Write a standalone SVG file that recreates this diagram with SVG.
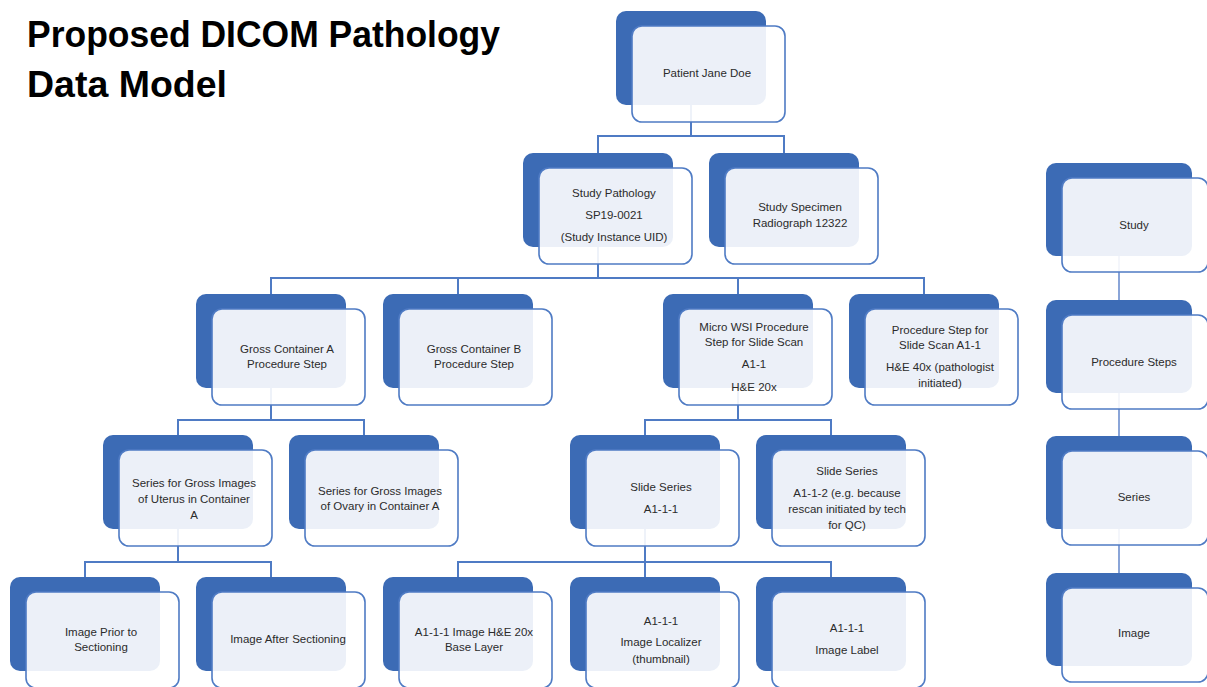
<svg xmlns="http://www.w3.org/2000/svg" width="1207" height="687" viewBox="0 0 1207 687">
<style>
.bk{fill:#3c6bb5}
.fr{fill:#ffffff;fill-opacity:0.9;stroke:#4f7bc4;stroke-width:1.6}
.t{font-family:"Liberation Sans",Arial,sans-serif;font-size:11.5px;fill:#2b2b2b;text-anchor:middle}
.ttl{font-family:"Liberation Sans",Arial,sans-serif;font-size:36px;font-weight:bold;fill:#000}
.c{fill:none;stroke:#4f7bc4;stroke-width:2}
.c2{fill:none;stroke:#8aa5d8;stroke-width:2}
</style>
<defs>
<g id="nd">
<rect class="bk" x="0" y="0" width="150" height="94" rx="10"/>
<rect class="fr" x="16" y="15" width="153" height="96" rx="10"/>
</g>
<g id="nr">
<rect class="bk" x="0" y="0" width="146" height="93" rx="10"/>
<rect class="fr" x="16" y="15" width="146" height="94" rx="10"/>
</g>
</defs>
<rect width="1207" height="687" fill="#ffffff"/>
<g id="title">
<text class="ttl" x="27" y="47" textLength="473" lengthAdjust="spacingAndGlyphs">Proposed DICOM Pathology</text>
<text class="ttl" x="27" y="97" textLength="200" lengthAdjust="spacingAndGlyphs">Data Model</text>
</g>
<g id="connectors">
<path class="c" d="M691 105V136M598 153V136H784V153"/>
<path class="c" d="M598 246V278M271 294V278H924V294M458 278V294M738 278V294"/>
<path class="c" d="M271 387V420M178 435V420H364V435"/>
<path class="c" d="M738 387V420M645 435V420H831V435"/>
<path class="c" d="M178 528V562M85 577V562H271V577"/>
<path class="c" d="M645 528V577M458 577V562H831V577"/>
<path class="c2" d="M1119 255V300M1119 392V436M1119 528V573"/>
</g>
<g id="patient"><use href="#nd" x="616" y="11"/><text class="t" x="707" y="77">Patient Jane Doe</text></g>
<g id="study-pathology"><use href="#nd" x="523" y="153"/><text class="t" x="614" y="197">Study Pathology</text><text class="t" x="614" y="219">SP19-0021</text><text class="t" x="614" y="241">(Study Instance UID)</text></g>
<g id="study-specimen"><use href="#nd" x="709" y="153"/><text class="t" x="800" y="211">Study Specimen</text><text class="t" x="800" y="227">Radiograph 12322</text></g>
<g id="gross-a"><use href="#nd" x="196" y="294"/><text class="t" x="287" y="353">Gross Container A</text><text class="t" x="287" y="368">Procedure Step</text></g>
<g id="gross-b"><use href="#nd" x="383" y="294"/><text class="t" x="474" y="353">Gross Container B</text><text class="t" x="474" y="368">Procedure Step</text></g>
<g id="micro-wsi"><use href="#nd" x="663" y="294"/><text class="t" x="754" y="331">Micro WSI Procedure</text><text class="t" x="754" y="346">Step for Slide Scan</text><text class="t" x="754" y="368">A1-1</text><text class="t" x="754" y="391">H&amp;E 20x</text></g>
<g id="proc-step-40x"><use href="#nd" x="849" y="294"/><text class="t" x="940" y="334">Procedure Step for</text><text class="t" x="940" y="349">Slide Scan A1-1</text><text class="t" x="940" y="371">H&amp;E 40x (pathologist</text><text class="t" x="940" y="387">initiated)</text></g>
<g id="series-uterus"><use href="#nd" x="103" y="435"/><text class="t" x="194" y="487">Series for Gross Images</text><text class="t" x="194" y="503">of Uterus in Container</text><text class="t" x="194" y="519">A</text></g>
<g id="series-ovary"><use href="#nd" x="289" y="435"/><text class="t" x="380" y="495">Series for Gross Images</text><text class="t" x="380" y="510">of Ovary in Container A</text></g>
<g id="slide-series-1"><use href="#nd" x="570" y="435"/><text class="t" x="661" y="491">Slide Series</text><text class="t" x="661" y="513">A1-1-1</text></g>
<g id="slide-series-2"><use href="#nd" x="756" y="435"/><text class="t" x="847" y="475">Slide Series</text><text class="t" x="847" y="497">A1-1-2 (e.g. because</text><text class="t" x="847" y="513">rescan initiated by tech</text><text class="t" x="847" y="529">for QC)</text></g>
<g id="image-prior"><use href="#nd" x="10" y="577"/><text class="t" x="101" y="636">Image Prior to</text><text class="t" x="101" y="651">Sectioning</text></g>
<g id="image-after"><use href="#nd" x="196" y="577"/><text class="t" x="288" y="643">Image After Sectioning</text></g>
<g id="image-he"><use href="#nd" x="383" y="577"/><text class="t" x="474" y="636">A1-1-1 Image H&amp;E 20x</text><text class="t" x="474" y="651">Base Layer</text></g>
<g id="image-localizer"><use href="#nd" x="570" y="577"/><text class="t" x="661" y="625">A1-1-1</text><text class="t" x="661" y="646">Image Localizer</text><text class="t" x="661" y="663">(thumbnail)</text></g>
<g id="image-label"><use href="#nd" x="756" y="577"/><text class="t" x="847" y="632">A1-1-1</text><text class="t" x="847" y="654">Image Label</text></g>
<g id="legend-study"><use href="#nr" x="1046" y="163"/><text class="t" x="1134" y="229">Study</text></g>
<g id="legend-procedure-steps"><use href="#nr" x="1046" y="300"/><text class="t" x="1134" y="366">Procedure Steps</text></g>
<g id="legend-series"><use href="#nr" x="1046" y="436"/><text class="t" x="1134" y="501">Series</text></g>
<g id="legend-image"><use href="#nr" x="1046" y="573"/><text class="t" x="1134" y="637">Image</text></g>
</svg>
